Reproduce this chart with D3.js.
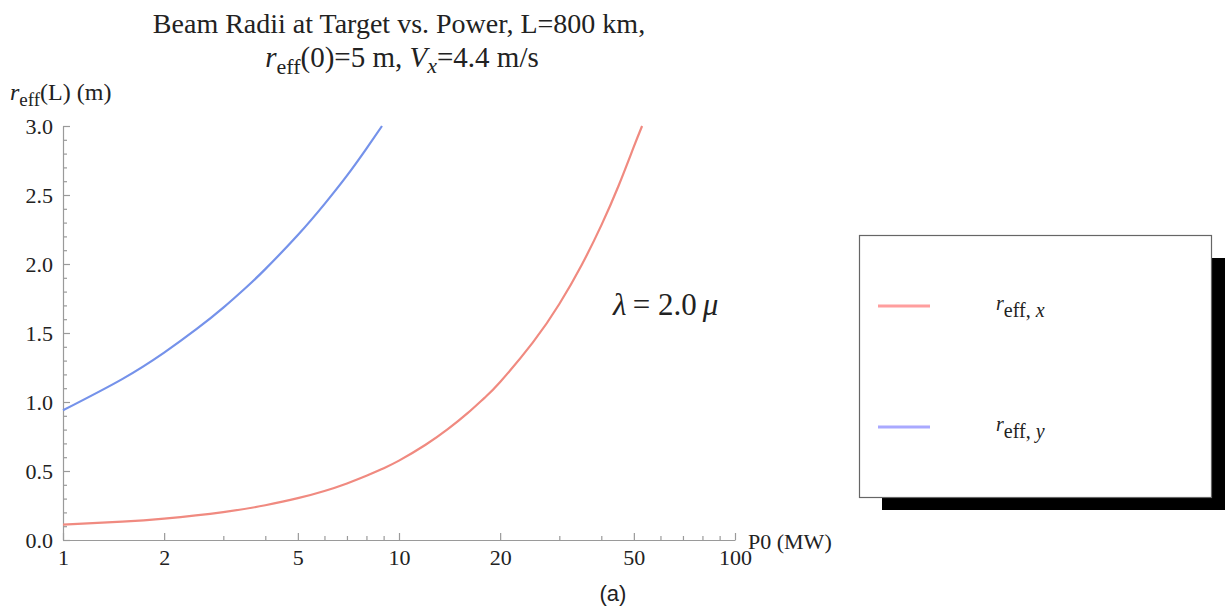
<!DOCTYPE html>
<html><head><meta charset="utf-8">
<script src="https://cdn.jsdelivr.net/npm/d3@7/dist/d3.min.js"></script>
<style>
html,body{margin:0;padding:0;background:#fff;}
svg{display:block;}
text{fill:#222;}
</style></head>
<body><svg id="chart" width="1225" height="610"></svg>
<script>
// Data
const redP = [1, 1.5, 2, 3, 4, 5, 6, 7, 8, 9, 10, 12, 14, 16, 18, 20, 25, 30, 35, 40, 45, 50, 52.9];
const redR = [0.112, 0.133, 0.155, 0.202, 0.252, 0.303, 0.355, 0.41, 0.465, 0.52, 0.575, 0.69, 0.805, 0.919, 1.032, 1.145, 1.43, 1.71, 1.995, 2.28, 2.565, 2.85, 3.0];
const blueP = [1, 1.5, 2, 2.5, 3, 3.5, 4, 5, 6, 7, 8, 8.9];
const blueR = [0.94, 1.166, 1.358, 1.529, 1.684, 1.828, 1.963, 2.21, 2.434, 2.64, 2.836, 3.0];
const xMajorTicks = [1, 2, 5, 10, 20, 50, 100];
const xMinorTicks = [3, 4, 6, 7, 8, 9, 30, 40, 60, 70, 80, 90];
const yMajorTicks = [0, 0.5, 1.0, 1.5, 2.0, 2.5, 3.0];
const yMinorTicks = d3.range(0, 31).map(d => d / 10).filter(d => Math.round(d * 10) % 5 !== 0);

const serif = '"Liberation Serif","Times New Roman",serif';
const svg = d3.select("#chart").style("font-family", serif);
const x = d3.scaleLog().domain([1, 100]).range([63, 735]);
const y = d3.scaleLinear().domain([0, 3]).range([540, 126]);

const axisColor = "#9a9a9a";

// X axis
const gx = svg.append("g").attr("transform", `translate(0,${y(0)})`);
gx.call(d3.axisBottom(x).tickValues(xMajorTicks).tickFormat(d3.format("d"))
  .tickSizeInner(-7).tickSizeOuter(0).tickPadding(8));
const gxm = svg.append("g").attr("transform", `translate(0,${y(0)})`);
gxm.call(d3.axisBottom(x).tickValues(xMinorTicks).tickFormat("").tickSizeInner(-4).tickSizeOuter(0));
gxm.select(".domain").remove();

// Y axis
const gy = svg.append("g").attr("transform", `translate(${x(1)},0)`);
gy.call(d3.axisLeft(y).tickValues(yMajorTicks).tickFormat(d3.format(".1f"))
  .tickSizeInner(-7).tickSizeOuter(0).tickPadding(10));
const gym = svg.append("g").attr("transform", `translate(${x(1)},0)`);
gym.call(d3.axisLeft(y).tickValues(yMinorTicks).tickFormat("").tickSizeInner(-4).tickSizeOuter(0));
gym.select(".domain").remove();

svg.selectAll(".domain, .tick line").attr("stroke", axisColor).attr("stroke-width", 1.2);
svg.selectAll(".tick text").style("font-family", serif).style("font-size", "22px").attr("fill", "#222");
gx.selectAll(".tick text").attr("dy", "0.75em");

// curves
const line = d3.line().x(d => x(d[0])).y(d => y(d[1])).curve(d3.curveNatural);
svg.append("path").datum(redP.map((p, i) => [p, redR[i]]))
  .attr("d", line).attr("fill", "none").attr("stroke", "#f08a80").attr("stroke-width", 2.2);
svg.append("path").datum(blueP.map((p, i) => [p, blueR[i]]))
  .attr("d", line).attr("fill", "none").attr("stroke", "#7592ea").attr("stroke-width", 2.2);

// Title
svg.append("text").attr("x", 399).attr("y", 33).attr("text-anchor", "middle").style("font-size", "28px")
  .text("Beam Radii at Target vs. Power, L=800 km,");
const t2 = svg.append("text").attr("x", 402).attr("y", 67).attr("text-anchor", "middle").style("font-size", "29px");
t2.append("tspan").attr("font-style", "italic").text("r");
t2.append("tspan").attr("dy", 7).style("font-size", "22px").text("eff");
t2.append("tspan").attr("dy", -7).text("(0)=5 m, ");
t2.append("tspan").attr("font-style", "italic").text("V");
t2.append("tspan").attr("dy", 6).style("font-size", "22px").attr("font-style", "italic").text("x");
t2.append("tspan").attr("dy", -6).text("=4.4 m/s");

// Y label
const yl = svg.append("text").attr("x", 10).attr("y", 100).style("font-size", "24px");
yl.append("tspan").attr("font-style", "italic").text("r");
yl.append("tspan").attr("dy", 6).style("font-size", "19px").text("eff");
yl.append("tspan").attr("dy", -6).text("(L) (m)");

// X label
svg.append("text").attr("x", 748).attr("y", 549).style("font-size", "22px").text("P0 (MW)");

// lambda annotation
const la = svg.append("text").attr("x", 613).attr("y", 315).style("font-size", "31px");
la.append("tspan").attr("font-style", "italic").text("λ");
la.append("tspan").text("\u2009= 2.0\u2009");
la.append("tspan").attr("font-style", "italic").text("μ");

// Legend
svg.append("rect").attr("x", 882).attr("y", 258).attr("width", 352).attr("height", 252).attr("fill", "#000");
svg.append("rect").attr("x", 859.5).attr("y", 235.5).attr("width", 352).attr("height", 262)
  .attr("fill", "#fff").attr("stroke", "#666").attr("stroke-width", 1.2);
const legendItems = [
  { name: "x", color: "#ff9e9e", y: 306 },
  { name: "y", color: "#a9a9ff", y: 427 }
];
legendItems.forEach(it => {
  svg.append("line").attr("x1", 878).attr("x2", 930).attr("y1", it.y).attr("y2", it.y)
    .attr("stroke", it.color).attr("stroke-width", 3);
  const lt = svg.append("text").attr("x", 996).attr("y", it.y + 4).style("font-size", "20px");
  lt.append("tspan").attr("font-style", "italic").text("r");
  lt.append("tspan").attr("dy", 7).text("eff, ");
  lt.append("tspan").attr("font-style", "italic").text(it.name);
});

// caption
svg.append("text").attr("x", 613).attr("y", 601).attr("text-anchor", "middle")
  .style("font-family", '"Liberation Sans", Arial, sans-serif').style("font-size", "22px").text("(a)");
</script></body></html>
